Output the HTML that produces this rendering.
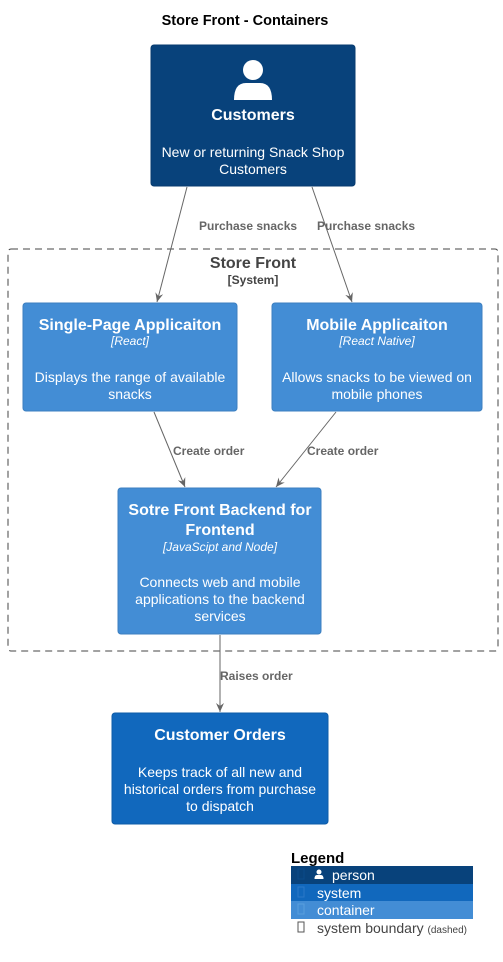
<!DOCTYPE html>
<html><head><style>body{margin:0;background:#fff}svg{display:block}text{font-family:"Liberation Sans",sans-serif}</style></head><body>
<svg width="503" height="962" viewBox="0 0 503 962" xmlns="http://www.w3.org/2000/svg">
<defs><marker id="a" markerWidth="10" markerHeight="10" refX="9" refY="5" orient="auto" markerUnits="userSpaceOnUse"><path d="M0,1 L9,5 L0,9 L3,5 Z" fill="#666"/></marker></defs>
<text x="245" y="25" font-size="14.5" font-weight="bold" text-anchor="middle">Store Front - Containers</text>
<rect x="8" y="249" width="490" height="402" rx="3" fill="none" stroke="#444" stroke-dasharray="7,5"/>
<text x="253" y="268" font-size="16" font-weight="bold" text-anchor="middle" fill="#444">Store Front</text>
<text x="253" y="284" font-size="12" font-weight="bold" text-anchor="middle" fill="#444">[System]</text>
<rect x="151" y="45" width="204" height="141" rx="3" fill="#08427b" stroke="#073b6f"/>
<circle cx="253" cy="70" r="10" fill="#fff"/>
<path d="M234,100 Q234,83 246,83 L260,83 Q272,83 272,100 Z" fill="#fff"/>
<text x="253" y="120" font-size="16" font-weight="bold" fill="#fff" text-anchor="middle">Customers</text>
<text x="253" y="157" font-size="14" fill="#fff" text-anchor="middle">New or returning Snack Shop</text>
<text x="253" y="174" font-size="14" fill="#fff" text-anchor="middle">Customers</text>
<rect x="23" y="303" width="214" height="108" rx="3" fill="#438dd5" stroke="#3c7fc0"/>
<text x="130" y="330" font-size="16" font-weight="bold" fill="#fff" text-anchor="middle">Single-Page Applicaiton</text>
<text x="130" y="345" font-size="12" font-style="italic" fill="#fff" text-anchor="middle">[React]</text>
<text x="130" y="382" font-size="14" fill="#fff" text-anchor="middle">Displays the range of available</text>
<text x="130" y="399" font-size="14" fill="#fff" text-anchor="middle">snacks</text>
<rect x="272" y="303" width="210" height="108" rx="3" fill="#438dd5" stroke="#3c7fc0"/>
<text x="377" y="330" font-size="16" font-weight="bold" fill="#fff" text-anchor="middle">Mobile Applicaiton</text>
<text x="377" y="345" font-size="12" font-style="italic" fill="#fff" text-anchor="middle">[React Native]</text>
<text x="377" y="382" font-size="14" fill="#fff" text-anchor="middle">Allows snacks to be viewed on</text>
<text x="377" y="399" font-size="14" fill="#fff" text-anchor="middle">mobile phones</text>
<rect x="118" y="488" width="203" height="146" rx="3" fill="#438dd5" stroke="#3c7fc0"/>
<text x="220" y="515" font-size="16" font-weight="bold" fill="#fff" text-anchor="middle">Sotre Front Backend for</text>
<text x="220" y="535" font-size="16" font-weight="bold" fill="#fff" text-anchor="middle">Frontend</text>
<text x="220" y="551" font-size="12" font-style="italic" fill="#fff" text-anchor="middle">[JavaScipt and Node]</text>
<text x="220" y="587" font-size="14" fill="#fff" text-anchor="middle">Connects web and mobile</text>
<text x="220" y="604" font-size="14" fill="#fff" text-anchor="middle">applications to the backend</text>
<text x="220" y="621" font-size="14" fill="#fff" text-anchor="middle">services</text>
<rect x="112" y="713" width="216" height="111" rx="3" fill="#1168bd" stroke="#0e5ca8"/>
<text x="220" y="740" font-size="16" font-weight="bold" fill="#fff" text-anchor="middle">Customer Orders</text>
<text x="220" y="777" font-size="14" fill="#fff" text-anchor="middle">Keeps track of all new and</text>
<text x="220" y="794" font-size="14" fill="#fff" text-anchor="middle">historical orders from purchase</text>
<text x="220" y="811" font-size="14" fill="#fff" text-anchor="middle">to dispatch</text>
<g stroke="#666" stroke-width="1" fill="none" marker-end="url(#a)">
<line x1="187" y1="187" x2="157" y2="302"/>
<line x1="312" y1="187" x2="352" y2="302"/>
<line x1="154" y1="412" x2="185" y2="487"/>
<line x1="336" y1="412" x2="276" y2="487"/>
<line x1="220" y1="635" x2="220" y2="712"/>
</g>
<g font-size="12" font-weight="bold" fill="#666">
<text x="199" y="230">Purchase snacks</text>
<text x="317" y="230">Purchase snacks</text>
<text x="173" y="455">Create order</text>
<text x="307" y="455">Create order</text>
<text x="220" y="680">Raises order</text>
</g>
<text x="291" y="863" font-size="15" font-weight="bold">Legend</text>
<rect x="291" y="866" width="182" height="18" fill="#08427b"/>
<rect x="291" y="884" width="182" height="17" fill="#1168bd"/>
<rect x="291" y="901" width="182" height="18" fill="#438dd5"/>
<rect x="298" y="869" width="6" height="10" fill="none" stroke="#0a4a8a"/>
<rect x="298" y="887" width="6" height="10" fill="none" stroke="#2a78c8"/>
<rect x="298" y="904" width="6" height="10" fill="none" stroke="#5a9edd"/>
<rect x="298" y="922" width="6" height="10" fill="none" stroke="#555"/>
<circle cx="319" cy="872" r="2.5" fill="#fff"/><path d="M314.5,879 Q314.5,875 317,875 L321,875 Q323.5,875 323.5,879 Z" fill="#fff"/>
<g font-size="14" fill="#fff"><text x="332" y="880">person</text><text x="317" y="898">system</text><text x="317" y="915">container</text></g>
<text x="317" y="933" font-size="14" fill="#444">system boundary <tspan font-size="10">(dashed)</tspan></text>
</svg>
</body></html>
